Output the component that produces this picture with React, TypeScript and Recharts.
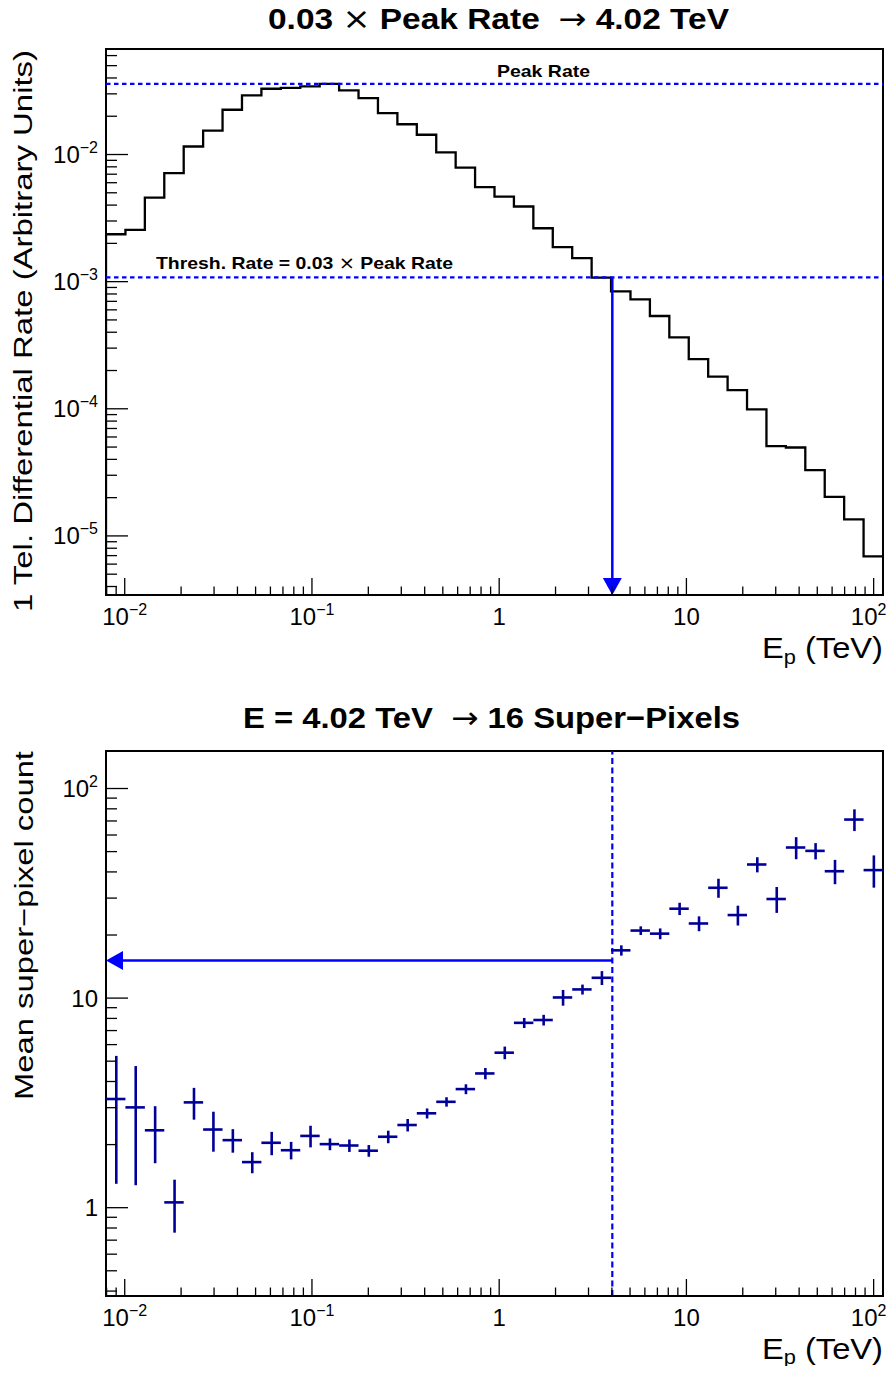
import React from 'react';
import { ComposedChart, Line, Scatter, XAxis, YAxis, ErrorBar, ReferenceLine, ReferenceArea } from 'recharts';

const FONT = '"Liberation Sans", Arial, Helvetica, sans-serif';
const SYM_FONT = '"DejaVu Sans", "Liberation Sans", sans-serif';
const BLUE = '#0000ff';
const NAVY = '#000099';

// Energy bin edges (TeV), 40 logarithmic bins
const BIN_EDGES = [
  0.007943, 0.010087, 0.012809, 0.016265, 0.020654, 0.026227, 0.033304, 0.04229, 0.053703, 0.068193,
  0.086596, 0.10996, 0.13964, 0.17732, 0.22517, 0.28593, 0.36308, 0.46106, 0.58546, 0.74345,
  0.94406, 1.1988, 1.5223, 1.9331, 2.4547, 3.1171, 3.9583, 5.0264, 6.3826, 8.1049,
  10.292, 13.069, 16.596, 21.074, 26.761, 33.982, 43.152, 54.796, 69.582, 88.357, 112.2,
];

// 1 Tel. differential rate per bin (arbitrary units)
const RATE = [
  2.36e-3, 2.55e-3, 4.58e-3, 7.14e-3, 1.156e-2, 1.54e-2, 2.25e-2, 2.92e-2, 3.29e-2, 3.34e-2,
  3.43e-2, 3.6e-2, 3.19e-2, 2.78e-2, 2.12e-2, 1.73e-2, 1.43e-2, 1.04e-2, 7.9e-3, 5.53e-3,
  4.67e-3, 3.9e-3, 2.63e-3, 1.87e-3, 1.53e-3, 1.074e-3, 8.39e-4, 7.26e-4, 5.37e-4, 3.65e-4,
  2.46e-4, 1.79e-4, 1.4e-4, 9.89e-5, 5.08e-5, 4.96e-5, 3.29e-5, 2.03e-5, 1.35e-5, 6.9e-6,
];

// Mean super-pixel count per bin and its error
const SP_MEAN = [
  3.3, 3.01, 2.34, 1.06, 3.18, 2.36, 2.1, 1.65, 2.04, 1.88,
  2.2, 2.01, 1.98, 1.87, 2.18, 2.48, 2.82, 3.2, 3.68, 4.37,
  5.49, 7.62, 7.86, 10.07, 11.0, 12.5, 16.9, 21.0, 20.3, 26.7,
  22.7, 33.6, 24.9, 43.4, 29.7, 52.3, 50.4, 40.3, 71.1, 40.8,
];
const SP_ERR = [
  2.0, 1.73, 0.71, 0.3, 0.55, 0.51, 0.27, 0.19, 0.26, 0.18,
  0.26, 0.13, 0.135, 0.12, 0.15, 0.17, 0.155, 0.165, 0.2, 0.27,
  0.38, 0.42, 0.46, 0.87, 0.6, 0.95, 0.95, 1.0, 1.2, 1.8,
  1.85, 3.5, 2.7, 3.6, 4.2, 6.3, 4.5, 5.35, 8.45, 7.15,
];

const PEAK_FRACTION = 0.03;
const ARROW_ENERGY = 4.02;
const SP_AT_ARROW = 15.1;
const SP_TITLE_COUNT = 16;

const X_DOMAIN: [number, number] = [0.007943, 112.2];
const TOP_Y_DOMAIN: [number, number] = [3.43e-6, 0.0676];
const BOT_Y_DOMAIN: [number, number] = [0.379, 151];

const X_MAJOR = [0.01, 0.1, 1, 10, 100];
const X_MAJOR_LABELS = [['10', '\u22122'], ['10', '\u22121'], ['1', ''], ['10', ''], ['10', '2']];
const X_MINOR = [
  0.008, 0.009, 0.02, 0.03, 0.04, 0.05, 0.06, 0.07, 0.08, 0.09,
  0.2, 0.3, 0.4, 0.5, 0.6, 0.7, 0.8, 0.9, 2, 3, 4, 5, 6, 7, 8, 9,
  20, 30, 40, 50, 60, 70, 80, 90,
];

const TOP_Y_MAJOR = [1e-5, 1e-4, 1e-3, 1e-2];
const TOP_Y_MAJOR_LABELS = [['10', '\u22125'], ['10', '\u22124'], ['10', '\u22123'], ['10', '\u22122']];
const TOP_Y_MINOR = [
  4e-6, 5e-6, 6e-6, 7e-6, 8e-6, 9e-6,
  2e-5, 3e-5, 4e-5, 5e-5, 6e-5, 7e-5, 8e-5, 9e-5,
  2e-4, 3e-4, 4e-4, 5e-4, 6e-4, 7e-4, 8e-4, 9e-4,
  2e-3, 3e-3, 4e-3, 5e-3, 6e-3, 7e-3, 8e-3, 9e-3,
  0.02, 0.03, 0.04, 0.05, 0.06,
];

const BOT_Y_MAJOR = [1, 10, 100];
const BOT_Y_MAJOR_LABELS = [['1', ''], ['10', ''], ['10', '2']];
const BOT_Y_MINOR = [0.4, 0.5, 0.6, 0.7, 0.8, 0.9, 2, 3, 4, 5, 6, 7, 8, 9, 20, 30, 40, 50, 60, 70, 80, 90];

const PEAK = Math.max(...RATE);
const THRESH = PEAK_FRACTION * PEAK;

const histData = [
  { x: BIN_EDGES[0], y: TOP_Y_DOMAIN[0] },
  ...RATE.map((v, i) => ({ x: BIN_EDGES[i], y: v })),
  { x: BIN_EDGES[RATE.length], y: RATE[RATE.length - 1] },
];

const spData = SP_MEAN.map((m, i) => {
  const lo = BIN_EDGES[i];
  const hi = BIN_EDGES[i + 1];
  const c = (lo + hi) / 2;
  return { x: c, y: m, ex: [c - lo, hi - c], ey: SP_ERR[i] };
});

const makeXTick = (majors: number[], labels: string[][]) => (props: any) => {
  const { x, y, payload } = props;
  const idx = majors.indexOf(payload.value);
  const major = idx >= 0;
  // keep the last label inside the visible page
  const shift = idx === majors.length - 1 ? -5 : 0;
  return (
    <g>
      <line x1={x} x2={x} y1={y} y2={y - (major ? 17 : 8.5)} stroke="#000" strokeWidth={1.3} />
      {major && (
        <text x={x + shift} y={y + 30} textAnchor="middle" fontFamily={FONT} fontSize={24} fill="#000">
          {labels[idx][0]}
          {labels[idx][1] ? <tspan dy={-10} fontSize={16}>{labels[idx][1]}</tspan> : null}
        </text>
      )}
    </g>
  );
};

const makeYTick = (majors: number[], labels: string[][]) => (props: any) => {
  const { x, y, payload } = props;
  const idx = majors.indexOf(payload.value);
  const major = idx >= 0;
  return (
    <g>
      <line x1={x} x2={x + (major ? 22 : 11)} y1={y} y2={y} stroke="#000" strokeWidth={1.3} />
      {major && (
        <text x={x - 8} y={y + 8.5} textAnchor="end" fontFamily={FONT} fontSize={24} fill="#000">
          {labels[idx][0]}
          {labels[idx][1] ? <tspan dy={-10} fontSize={16}>{labels[idx][1]}</tspan> : null}
        </text>
      )}
    </g>
  );
};

const xTick = makeXTick(X_MAJOR, X_MAJOR_LABELS);
const topYTick = makeYTick(TOP_Y_MAJOR, TOP_Y_MAJOR_LABELS);
const botYTick = makeYTick(BOT_Y_MAJOR, BOT_Y_MAJOR_LABELS);
const X_TICKS = [...X_MINOR, ...X_MAJOR];
const TOP_Y_TICKS = [...TOP_Y_MINOR, ...TOP_Y_MAJOR];
const BOT_Y_TICKS = [...BOT_Y_MINOR, ...BOT_Y_MAJOR];

const ArrowShape = (props: any) => {
  const { x1, y1, x2, y2 } = props;
  const dx = x2 - x1;
  const dy = y2 - y1;
  const len = Math.hypot(dx, dy) || 1;
  const ux = dx / len;
  const uy = dy / len;
  const headLen = 17;
  const headHalf = 9.5;
  const bx = x2 - ux * headLen;
  const by = y2 - uy * headLen;
  return (
    <g>
      <line x1={x1} y1={y1} x2={bx + ux * 2} y2={by + uy * 2} stroke={BLUE} strokeWidth={2.5} />
      <polygon
        points={`${x2},${y2} ${bx - uy * headHalf},${by + ux * headHalf} ${bx + uy * headHalf},${by - ux * headHalf}`}
        fill={BLUE}
      />
    </g>
  );
};

const EmptyShape = () => <g />;

const Sym = ({ c }: { c: string }) => (
  <tspan fontFamily={SYM_FONT} fontWeight="normal">{c}</tspan>
);

export default function App() {
  return (
    <div style={{ position: 'relative', margin: -8, width: 895, height: 1374, fontFamily: FONT }}>
      <ComposedChart width={895} height={680} margin={{ top: 49, right: 12, bottom: 0, left: 0 }} data={histData}>
        <XAxis
          dataKey="x" type="number" scale="log" domain={X_DOMAIN} allowDataOverflow
          ticks={X_TICKS} interval={0} tick={xTick} tickLine={false} axisLine={false}
          tickSize={0} tickMargin={0} height={85}
        />
        <YAxis
          dataKey="y" type="number" scale="log" domain={TOP_Y_DOMAIN} allowDataOverflow
          ticks={TOP_Y_TICKS} interval={0} tick={topYTick} tickLine={false} axisLine={false}
          tickSize={0} tickMargin={0} width={106}
        />
        <ReferenceArea
          x1={X_DOMAIN[0]} x2={X_DOMAIN[1]} y1={TOP_Y_DOMAIN[0]} y2={TOP_Y_DOMAIN[1]}
          fill="none" stroke="#000" strokeWidth={2} ifOverflow="visible"
        />
        <Line
          type="stepAfter" dataKey="y" stroke="#000" strokeWidth={2.3} dot={false} activeDot={false}
          isAnimationActive={false}
        />
        <ReferenceLine y={PEAK} stroke={BLUE} strokeWidth={2.2} strokeDasharray="4.5 3.5" ifOverflow="visible" />
        <ReferenceLine y={THRESH} stroke={BLUE} strokeWidth={2.2} strokeDasharray="4.5 3.5" ifOverflow="visible" />
        <ReferenceLine
          segment={[{ x: ARROW_ENERGY, y: THRESH }, { x: ARROW_ENERGY, y: TOP_Y_DOMAIN[0] }]}
          stroke={BLUE} strokeWidth={2.5} shape={ArrowShape} ifOverflow="visible"
        />
      </ComposedChart>
      <ComposedChart width={895} height={694} margin={{ top: 71, right: 12, bottom: 0, left: 0 }} data={spData}>
        <XAxis
          dataKey="x" type="number" scale="log" domain={X_DOMAIN} allowDataOverflow
          ticks={X_TICKS} interval={0} tick={xTick} tickLine={false} axisLine={false}
          tickSize={0} tickMargin={0} height={78}
        />
        <YAxis
          dataKey="y" type="number" scale="log" domain={BOT_Y_DOMAIN} allowDataOverflow
          ticks={BOT_Y_TICKS} interval={0} tick={botYTick} tickLine={false} axisLine={false}
          tickSize={0} tickMargin={0} width={106}
        />
        <ReferenceArea
          x1={X_DOMAIN[0]} x2={X_DOMAIN[1]} y1={BOT_Y_DOMAIN[0]} y2={BOT_Y_DOMAIN[1]}
          fill="none" stroke="#000" strokeWidth={2} ifOverflow="visible"
        />
        <ReferenceLine x={ARROW_ENERGY} stroke={BLUE} strokeWidth={2.2} strokeDasharray="6 3.5" ifOverflow="visible" />
        <ReferenceLine
          segment={[{ x: ARROW_ENERGY, y: SP_AT_ARROW }, { x: X_DOMAIN[0], y: SP_AT_ARROW }]}
          stroke={BLUE} strokeWidth={2.5} shape={ArrowShape} ifOverflow="visible"
        />
        <Scatter data={spData} dataKey="y" fill="none" shape={EmptyShape} isAnimationActive={false}>
          <ErrorBar dataKey="ex" direction="x" width={0} stroke={NAVY} strokeWidth={2.6} isAnimationActive={false} />
          <ErrorBar dataKey="ey" direction="y" width={0} stroke={NAVY} strokeWidth={2.6} isAnimationActive={false} />
        </Scatter>
      </ComposedChart>
      <svg
        width={895}
        height={1374}
        style={{ position: 'absolute', left: 0, top: 0, overflow: 'visible', pointerEvents: 'none' }}
      >
        <g fontFamily={FONT} fill="#000">
          <text x={268} y={28.5} fontSize={30} fontWeight="bold" textLength={461} lengthAdjust="spacingAndGlyphs" xmlSpace="preserve">
            {`${PEAK_FRACTION.toFixed(2)} `}<Sym c={'\u00d7'} />{' Peak Rate  '}<Sym c={'\u2192'} />{` ${ARROW_ENERGY.toFixed(2)} TeV`}
          </text>
          <text x={243} y={727.5} fontSize={30} fontWeight="bold" textLength={497} lengthAdjust="spacingAndGlyphs" xmlSpace="preserve">
            {`E = ${ARROW_ENERGY.toFixed(2)} TeV  `}<Sym c={'\u2192'} />{` ${SP_TITLE_COUNT} Super\u2212Pixels`}
          </text>
          <text x={497} y={77} fontSize={17} fontWeight="bold" textLength={93} lengthAdjust="spacingAndGlyphs">
            Peak Rate
          </text>
          <text x={156} y={269} fontSize={17} fontWeight="bold" textLength={297} lengthAdjust="spacingAndGlyphs" xmlSpace="preserve">
            {`Thresh. Rate = ${PEAK_FRACTION.toFixed(2)} `}<Sym c={'\u00d7'} />{' Peak Rate'}
          </text>
          <text
            x={32} y={612} fontSize={26} textLength={562} lengthAdjust="spacingAndGlyphs"
            transform="rotate(-90 32 612)"
          >
            1 Tel. Differential Rate (Arbitrary Units)
          </text>
          <text
            x={33} y={1100} fontSize={26} textLength={349} lengthAdjust="spacingAndGlyphs"
            transform="rotate(-90 33 1100)"
          >
            {'Mean super\u2212pixel count'}
          </text>
          <text x={883} y={658} fontSize={30} textAnchor="end" textLength={121} lengthAdjust="spacingAndGlyphs">
            E<tspan dy={6} fontSize={20}>p</tspan><tspan dy={-6}> (TeV)</tspan>
          </text>
          <text x={883} y={1359} fontSize={30} textAnchor="end" textLength={121} lengthAdjust="spacingAndGlyphs">
            E<tspan dy={5} fontSize={20}>p</tspan><tspan dy={-5}> (TeV)</tspan>
          </text>
        </g>
      </svg>
    </div>
  );
}
